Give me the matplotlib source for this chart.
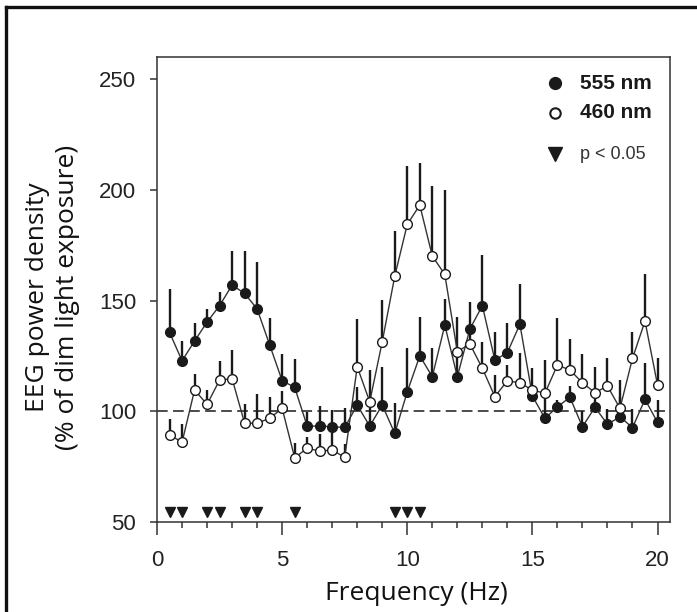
import numpy as np
import matplotlib
matplotlib.use("Agg")
import matplotlib.pyplot as plt
from matplotlib.lines import Line2D

# Frequency bins (Hz)
freq = np.arange(0.5, 20.01, 0.5)

# 555 nm: mean and upper SEM
mean_555 = [135.6, 122.8, 131.7, 140.3, 147.7, 157.0, 153.2, 146.2, 130.0, 113.8,
            110.8, 93.3, 93.3, 93.0, 92.7, 102.8, 93.3, 102.8, 90.0, 108.8,
            125.0, 115.6, 138.9, 115.6, 137.1, 147.7, 123.1, 126.5, 139.3, 106.9,
            96.8, 102.0, 106.3, 93.0, 101.8, 94.1, 97.5, 92.6, 105.4, 95.0]
sem_555 = [19.4, 9.0, 8.3, 5.7, 6.3, 15.5, 19.0, 21.0, 12.0, 12.0,
           12.6, 6.5, 9.0, 7.5, 8.6, 8.0, 8.0, 17.0, 13.6, 19.6,
           17.7, 12.8, 12.0, 10.0, 12.4, 22.8, 12.8, 13.2, 18.1, 4.0,
           11.0, 3.0, 5.0, 7.0, 6.0, 7.0, 16.6, 8.4, 16.2, 10.0]

# 460 nm: mean and upper SEM
mean_460 = [89.4, 86.0, 109.6, 103.1, 114.1, 114.7, 94.6, 94.6, 96.8, 101.3,
            79.0, 83.3, 82.0, 82.5, 79.2, 120.1, 104.3, 131.4, 161.0, 184.4,
            193.1, 170.1, 161.8, 126.9, 130.4, 119.4, 106.6, 113.8, 112.8, 109.6,
            108.1, 120.9, 118.6, 112.9, 108.4, 111.4, 101.3, 123.9, 140.7, 111.9]
sem_460 = [7.0, 8.2, 7.2, 6.5, 8.7, 13.0, 8.7, 13.2, 9.8, 8.0,
           6.5, 5.2, 7.7, 7.5, 6.0, 21.4, 14.3, 18.8, 20.5, 26.3,
           18.9, 31.7, 38.1, 15.8, 5.0, 12.0, 9.8, 7.0, 13.4, 9.8,
           15.0, 21.1, 13.9, 12.9, 11.7, 12.5, 5.0, 12.0, 21.3, 12.0]

# Frequencies with p < 0.05
sig_freq = [0.5, 1.0, 2.0, 2.5, 3.5, 4.0, 5.5, 9.5, 10.0, 10.5]
sig_level = 54.5

ink = "#1a1a1a"

fig = plt.figure(figsize=(6.97, 6.12), dpi=100)
ax = fig.add_axes([0.2253, 0.1471, 0.7360, 0.7598])

m5 = np.array(mean_555)
m4 = np.array(mean_460)

# upper error bars
ax.vlines(freq, m5, m5 + np.array(sem_555), color=ink, lw=1.7, zorder=2)
ax.vlines(freq, m4, m4 + np.array(sem_460), color=ink, lw=1.7, zorder=2)

# reference line
ax.axhline(100, color=ink, lw=1.1, dashes=(7, 3.5), zorder=1)

ax.plot(freq, m5, "-", color="#333333", lw=1.0, zorder=3)
ax.plot(freq, m4, "-", color="#333333", lw=1.0, zorder=3)
ax.plot(freq, m5, "o", ms=7, mfc=ink, mec=ink, mew=1.0, zorder=4)
ax.plot(freq, m4, "o", ms=7, mfc="white", mec=ink, mew=1.0, zorder=5)

ax.plot(sig_freq, [sig_level] * len(sig_freq), "v", ms=7, color=ink,
        linestyle="none", zorder=4)

ax.set_xlim(0, 20.5)
ax.set_ylim(50, 260)
ax.set_xticks([0, 5, 10, 15, 20])
ax.set_xticks(np.arange(0, 21, 1), minor=True)
ax.set_yticks([50, 100, 150, 200, 250])

for s in ax.spines.values():
    s.set_linewidth(1.1)
    s.set_color("#333333")

ax.tick_params(axis="x", which="major", direction="out", length=9, width=1.1,
               pad=11, labelsize=16, colors="#333333", labelcolor="#222222")
ax.tick_params(axis="x", which="minor", direction="out", length=4, width=1.1,
               colors="#333333")
ax.tick_params(axis="y", which="major", direction="out", length=5, width=1.1,
               pad=10, labelsize=16, colors="#333333", labelcolor="#222222")
for lab in ax.get_xticklabels() + ax.get_yticklabels():
    lab.set_family("Liberation Sans")

ax.set_xlabel("Frequency (Hz)", family="Open Sans", fontsize=19,
              color="#111111")
ax.xaxis.set_label_coords(0.505, -0.128)
ax.set_ylabel("EEG power density\n(% of dim light exposure)", family="Open Sans",
              fontsize=19, linespacing=1.25, color="#111111")
ax.yaxis.set_label_coords(-0.150, 0.483)

# legend drawn by hand
lx, tx = 0.776, 0.825
ax.plot([lx], [0.944], "o", ms=8.5, mfc=ink, mec=ink, transform=ax.transAxes,
        clip_on=False)
ax.plot([lx], [0.880], "o", ms=7.5, mfc="white", mec=ink, mew=1.5,
        transform=ax.transAxes, clip_on=False)
ax.plot([lx], [0.791], "v", ms=9.5, color=ink, transform=ax.transAxes,
        clip_on=False)
ax.text(tx, 0.944, "555 nm", transform=ax.transAxes, va="center", ha="left",
        fontsize=15, fontweight="bold", family="Liberation Sans", color=ink)
ax.text(tx, 0.880, "460 nm", transform=ax.transAxes, va="center", ha="left",
        fontsize=15, fontweight="bold", family="Liberation Sans", color=ink)
ax.text(tx, 0.791, "p < 0.05", transform=ax.transAxes, va="center", ha="left",
        fontsize=13, family="Liberation Sans", color="#333333")

# outer frame (top and left edges visible)
fig.add_artist(Line2D([6 / 697, 6 / 697], [0, 1 - 7 / 612], color="#111111",
                      lw=2.4, transform=fig.transFigure))
fig.add_artist(Line2D([6 / 697, 1], [1 - 7 / 612, 1 - 7 / 612], color="#111111",
                      lw=2.4, transform=fig.transFigure))

fig.savefig("out.png", dpi=100)
